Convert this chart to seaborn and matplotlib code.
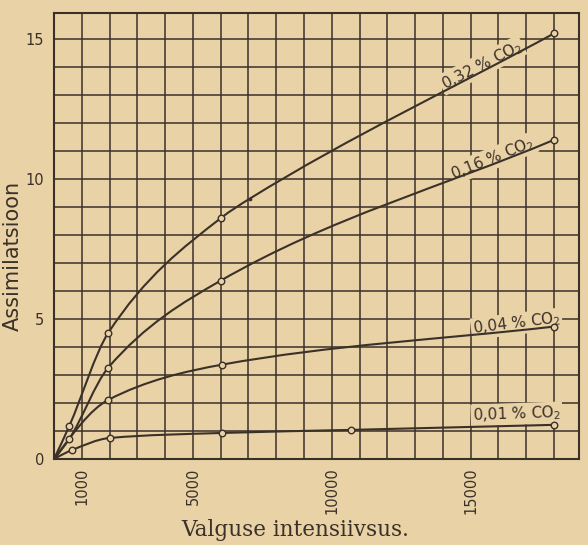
import numpy as np
import pandas as pd
import matplotlib
matplotlib.use("Agg")
import matplotlib.pyplot as plt
from matplotlib.path import Path
from matplotlib.patches import PathPatch
import seaborn as sns

# Light intensity (lux) and assimilation readings for each CO2 concentration
x_032 = [0, 550, 1950, 6000, 18000]
y_032 = [0, 1.18, 4.5, 8.6, 15.2]
x_016 = [0, 550, 1950, 6000, 18000]
y_016 = [0, 0.72, 3.26, 6.37, 11.4]
x_004 = [0, 1950, 6050, 18000]
y_004 = [0, 2.11, 3.37, 4.73]
x_001 = [0, 650, 2000, 6050, 10700, 18000]
y_001 = [0, 0.32, 0.75, 0.93, 1.04, 1.22]
# single extra reading marked with a small dot on the 0.32 % curve
x_dot = [7050]
y_dot = [9.3]

series_names = ["0,32 % CO$_2$", "0,16 % CO$_2$", "0,04 % CO$_2$", "0,01 % CO$_2$"]
xtick_values = [1000, 5000, 10000, 15000]
xtick_labels = ["1000", "5000", "10000", "15000"]
ytick_values = [0, 5, 10, 15]
ytick_labels = ["0", "5", "10", "15"]

PAPER = "#EAD2A7"
INK = "#3a3129"

sns.set_theme(style="white")
plt.rcParams["font.family"] = ["DejaVu Sans"]
plt.rcParams["mathtext.default"] = "regular"


def smooth_path(xs, ys):
    """Monotone cubic (Fritsch-Carlson) curve through the points as Bezier segments."""
    order = np.argsort(xs)
    x = np.asarray(xs, float)[order]
    y = np.asarray(ys, float)[order]
    h = np.diff(x)
    d = np.diff(y) / h
    n = len(x)
    m = np.zeros(n)
    for k in range(1, n - 1):
        if d[k - 1] * d[k] <= 0:
            m[k] = 0.0
        else:
            w1 = 2 * h[k] + h[k - 1]
            w2 = h[k] + 2 * h[k - 1]
            m[k] = (w1 + w2) / (w1 / d[k - 1] + w2 / d[k])
    # rising start from the origin, straight run into the last reading
    s = ((2 * h[0] + h[1]) * d[0] - h[0] * d[1]) / (h[0] + h[1])
    m[0] = min(max(s, 0.0), 3 * d[0])
    m[-1] = d[-1]
    verts = [(x[0], y[0])]
    codes = [Path.MOVETO]
    for k in range(n - 1):
        verts += [(x[k] + h[k] / 3, y[k] + m[k] * h[k] / 3),
                  (x[k + 1] - h[k] / 3, y[k + 1] - m[k + 1] * h[k] / 3),
                  (x[k + 1], y[k + 1])]
        codes += [Path.CURVE4] * 3
    return Path(verts, codes)


frames = []
for name, xs, ys in zip(series_names, [x_032, x_016, x_004, x_001],
                        [y_032, y_016, y_004, y_001]):
    frames.append(pd.DataFrame({"lux": xs, "assim": ys, "co2": name}))
data = pd.concat(frames, ignore_index=True)

fig = plt.figure(figsize=(5.88, 5.45), dpi=100, facecolor=PAPER)
ax = fig.add_axes([54 / 588, 1 - 459 / 545, 525 / 588, 446 / 545])
ax.set_facecolor(PAPER)

# curves (the dotted reading also lies on the 0.32 % curve)
for name, grp in data.groupby("co2", sort=False):
    cx = list(grp["lux"])
    cy = list(grp["assim"])
    if name == series_names[0]:
        cx += x_dot
        cy += y_dot
    ax.add_patch(PathPatch(smooth_path(cx, cy), fill=False,
                           edgecolor=INK, lw=1.5, zorder=4))

# open circle markers at the measured points (origin not marked)
marked = data[data["lux"] > 0]
sns.scatterplot(data=marked, x="lux", y="assim", ax=ax, s=22, marker="o",
                facecolor=PAPER, edgecolor=INK, linewidth=1.0, zorder=5,
                legend=False)
sns.scatterplot(x=x_dot, y=y_dot, ax=ax, s=7, color=INK, linewidth=0,
                zorder=5, legend=False)

ax.set_xlim(0, 18900)
ax.set_ylim(0, 15.93)

# graph-paper grid: every 1000 lux and every assimilation unit
ax.set_xticks(xtick_values)
ax.set_xticklabels(xtick_labels, rotation=90)
ax.set_yticks(ytick_values)
ax.set_yticklabels(ytick_labels)
ax.set_xticks(np.arange(0, 19000, 1000), minor=True)
ax.set_yticks(np.arange(0, 16, 1), minor=True)
ax.grid(which="both", color=INK, lw=1.1)
ax.set_axisbelow(True)
ax.tick_params(which="both", length=0, colors=INK, labelsize=10.5)
ax.tick_params(axis="x", pad=6)
ax.tick_params(axis="y", pad=7)
for sp in ax.spines.values():
    sp.set_color(INK)
    sp.set_linewidth(1.5)
ax.set_xlabel("")
ax.set_ylabel("")

# curve labels
label_pos = [(15400, 14.07, 27), (15800, 10.74, 22), (16650, 4.83, 7), (16650, 1.61, 2)]
for name, (lx, ly, rot) in zip(series_names, label_pos):
    ax.text(lx, ly, name, rotation=rot, rotation_mode="anchor", ha="center",
            va="center", fontsize=11, color=INK, zorder=3,
            bbox=dict(boxstyle="square,pad=0.1", facecolor=PAPER, edgecolor="none"))

fig.text(13 / 588, 1 - 256 / 545, "Assimilatsioon", rotation=90, ha="center",
         va="center", fontsize=15, color=INK, family=["DejaVu Sans"])
fig.text(295 / 588, 1 - 530 / 545, "Valguse intensiivsus.", ha="center",
         va="center", fontsize=15.5, color=INK, family=["DejaVu Serif"])

fig.savefig("out.png", dpi=100, facecolor=PAPER)
